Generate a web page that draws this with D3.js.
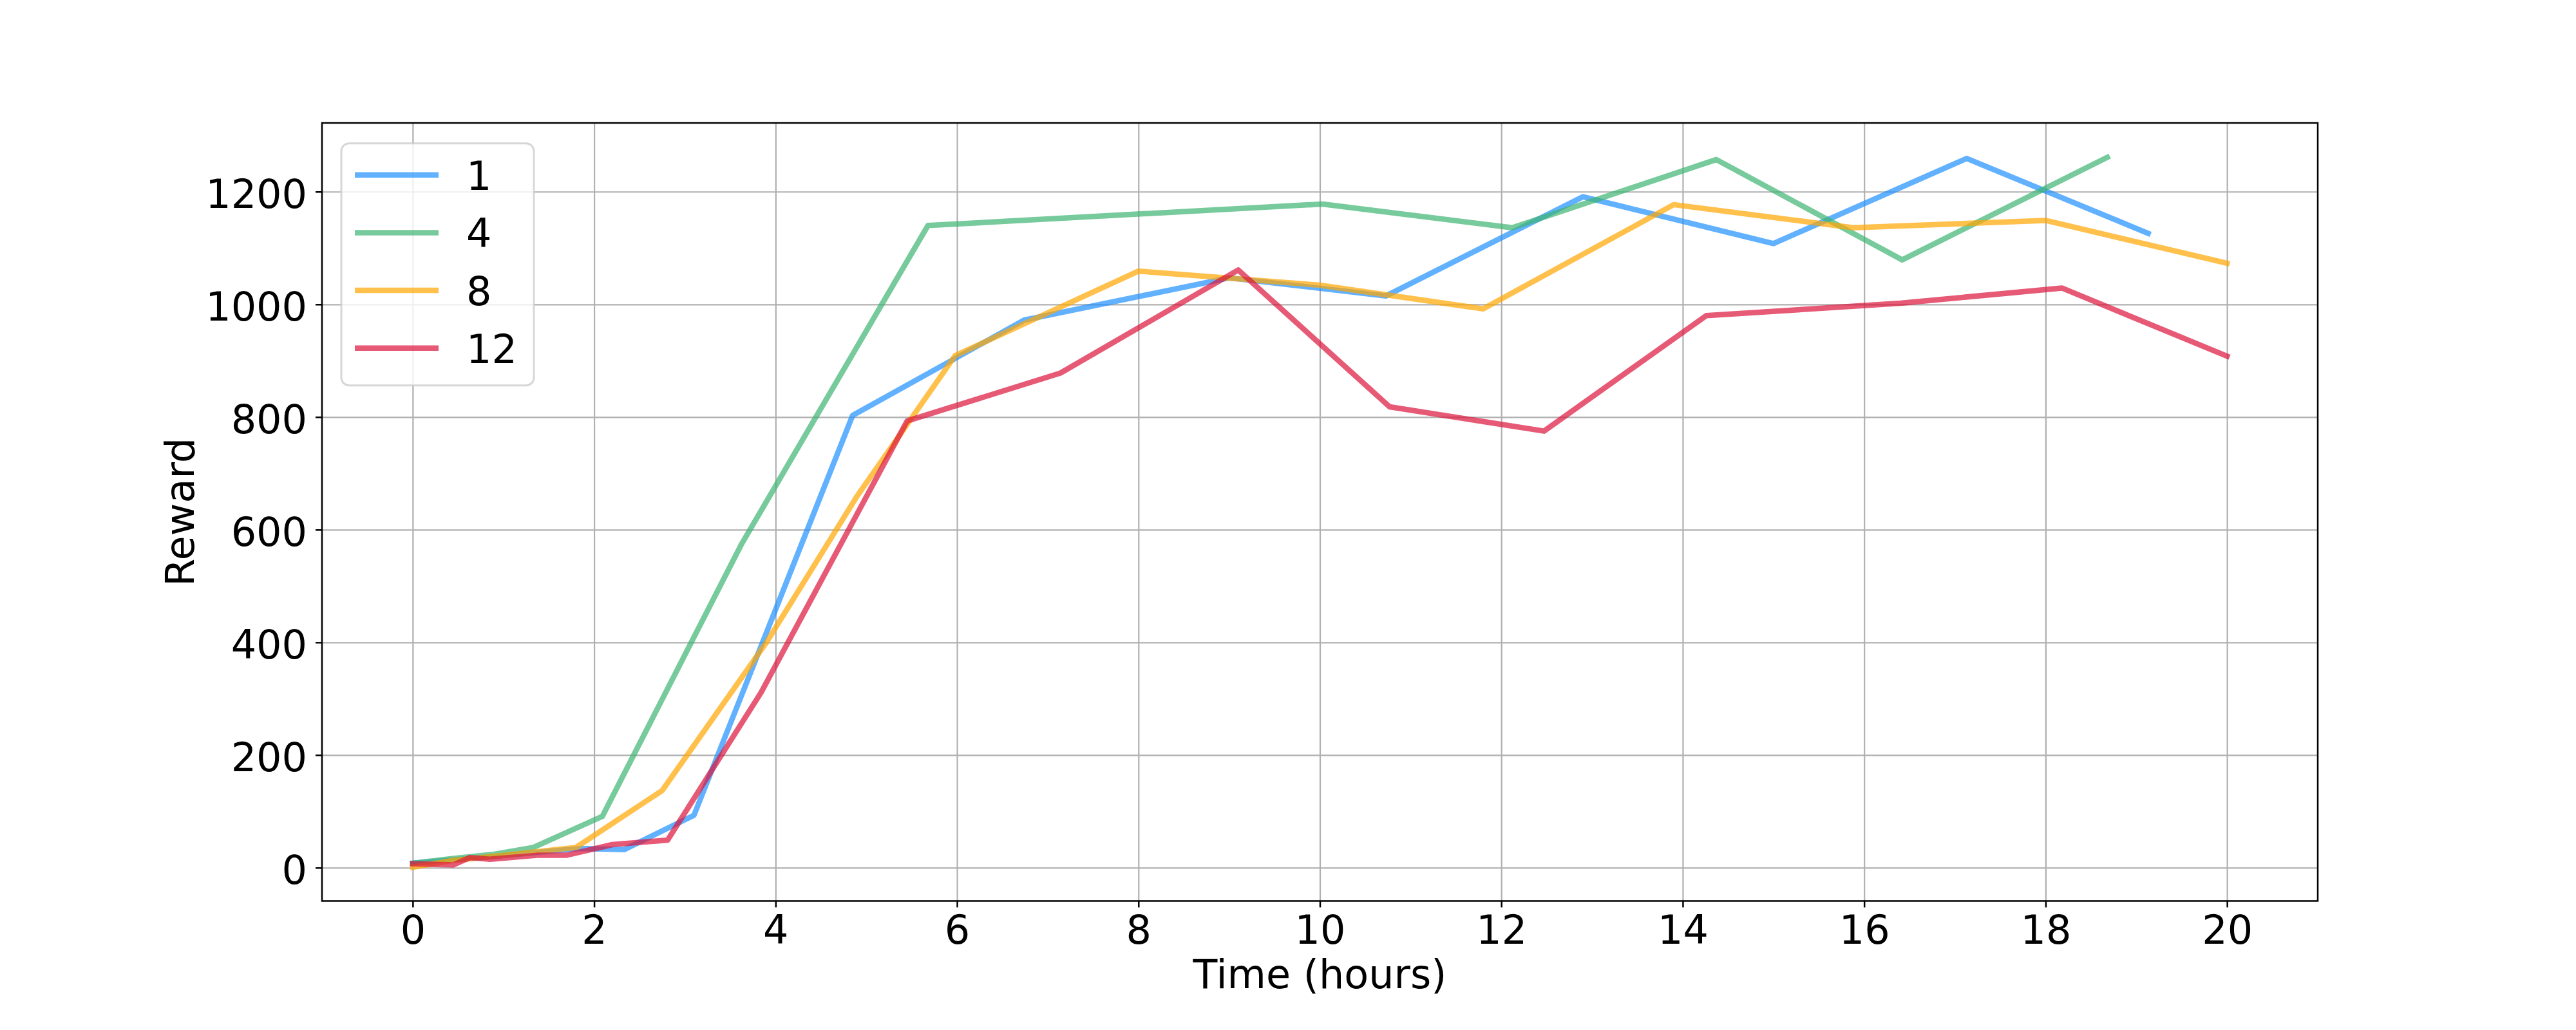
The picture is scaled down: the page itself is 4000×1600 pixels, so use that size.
<!DOCTYPE html>
<html>
<head>
<meta charset="utf-8">
<script src="https://cdn.jsdelivr.net/npm/d3@7"></script>
<style>
  body { margin: 0; background: #fff; }
  svg { display: block; }
  text { font-family: "DejaVu Sans", sans-serif; }
</style>
</head>
<body>
<svg id="chart"></svg>
<script>
// legend labels / series names
var seriesNames = ["1", "4", "8", "12"];
var seriesColors = ["dodgerblue", "mediumseagreen", "orange", "crimson"];

// time (hours) and reward per run
var time1   = [0, 0.45, 0.9, 1.35, 1.84, 2.33, 3.1, 4.85, 6.74, 9.0, 10.73, 12.9, 15.0, 17.13, 19.13];
var reward1 = [8, 14, 20, 27, 34, 32, 93, 803, 972, 1047, 1015, 1191, 1108, 1259, 1126];

var time4   = [0, 0.42, 0.9, 1.33, 2.09, 3.62, 5.68, 10.03, 12.12, 14.37, 16.42, 18.68];
var reward4 = [8, 16, 24, 36, 91, 573, 1140, 1178, 1136, 1257, 1079, 1261];

var time8   = [0, 0.45, 1.0, 1.8, 2.75, 3.9, 4.9, 5.98, 8.0, 10.0, 11.8, 13.9, 15.88, 18.0, 20.0];
var reward8 = [1, 13, 22, 36, 137, 400, 660, 909, 1059, 1034, 992, 1177, 1136, 1149, 1073];

var time12   = [0, 0.45, 0.63, 0.85, 1.37, 1.69, 2.2, 2.81, 3.84, 5.45, 7.14, 9.1, 10.77, 12.47, 14.26, 16.4, 18.18, 20.0];
var reward12 = [7, 5, 18, 15, 22, 22, 41, 49, 311, 793, 878, 1061, 818, 775, 980, 1002, 1029, 908];

var xTicks = [0, 2, 4, 6, 8, 10, 12, 14, 16, 18, 20];
var yTicks = [0, 200, 400, 600, 800, 1000, 1200];

var w = 4000;
var h = 1600;
var margin = {left: 500, right: 401, top: 191, bottom: 200.5};
var fontSize = 62;
var lineW = 8.5;

var series = [
  {name: seriesNames[0], color: seriesColors[0], t: time1, r: reward1},
  {name: seriesNames[1], color: seriesColors[1], t: time4, r: reward4},
  {name: seriesNames[2], color: seriesColors[2], t: time8, r: reward8},
  {name: seriesNames[3], color: seriesColors[3], t: time12, r: reward12}
];

var svg = d3.select("#chart")
  .attr("width", w)
  .attr("height", h);

var x = d3.scaleLinear()
  .domain([-1, 21])
  .range([margin.left, w - margin.right]);

var y = d3.scaleLinear()
  .domain([-59, 1322])
  .range([h - margin.bottom, margin.top]);

var plotW = w - margin.left - margin.right;
var plotH = h - margin.top - margin.bottom;

svg.append("defs").append("clipPath")
  .attr("id", "clip")
  .append("rect")
  .attr("x", margin.left)
  .attr("y", margin.top)
  .attr("width", plotW)
  .attr("height", plotH);

// grid
var xGrid = svg.append("g")
  .attr("transform", "translate(0," + (h - margin.bottom) + ")")
  .call(d3.axisBottom(x).tickValues(xTicks).tickSize(-plotH).tickFormat(""));
var yGrid = svg.append("g")
  .attr("transform", "translate(" + margin.left + ",0)")
  .call(d3.axisLeft(y).tickValues(yTicks).tickSize(-plotW).tickFormat(""));
[xGrid, yGrid].forEach(function(g) {
  g.select(".domain").remove();
  g.selectAll("line").attr("stroke", "#b0b0b0").attr("stroke-width", 2.2);
});

// lines
var line = d3.line()
  .x(function(d) { return x(d[0]); })
  .y(function(d) { return y(d[1]); });

svg.append("g")
  .attr("clip-path", "url(#clip)")
  .selectAll("path")
  .data(series)
  .enter()
  .append("path")
  .attr("d", function(s) { return line(d3.zip(s.t, s.r)); })
  .attr("fill", "none")
  .attr("stroke", function(s) { return s.color; })
  .attr("stroke-opacity", 0.7)
  .attr("stroke-width", lineW)
  .attr("stroke-linejoin", "round")
  .attr("stroke-linecap", "square");

// axes
var xAxis = svg.append("g")
  .attr("transform", "translate(0," + (h - margin.bottom) + ")")
  .call(d3.axisBottom(x).tickValues(xTicks).tickFormat(d3.format("d")).tickSize(10).tickPadding(12));
var yAxis = svg.append("g")
  .attr("transform", "translate(" + margin.left + ",0)")
  .call(d3.axisLeft(y).tickValues(yTicks).tickFormat(d3.format("d")).tickSize(10).tickPadding(13));
[xAxis, yAxis].forEach(function(g) {
  g.select(".domain").remove();
  g.selectAll("line").attr("stroke", "#000").attr("stroke-width", 2.5);
  g.selectAll("text")
    .attr("font-family", "DejaVu Sans")
    .attr("font-size", fontSize)
    .attr("fill", "#000");
});
yAxis.selectAll("text").attr("dy", "0.4em");

// frame
svg.append("rect")
  .attr("x", margin.left)
  .attr("y", margin.top)
  .attr("width", plotW)
  .attr("height", plotH)
  .attr("fill", "none")
  .attr("stroke", "#000")
  .attr("stroke-width", 2.5);

// axis labels
svg.append("text")
  .attr("x", margin.left + plotW / 2)
  .attr("y", 1535)
  .attr("text-anchor", "middle")
  .attr("font-size", fontSize)
  .text("Time (hours)");

svg.append("text")
  .attr("transform", "translate(301," + (margin.top + plotH / 2) + ") rotate(-90)")
  .attr("text-anchor", "middle")
  .attr("font-size", fontSize)
  .text("Reward");

// legend
var legend = svg.append("g");
legend.append("rect")
  .attr("x", 530)
  .attr("y", 222.7)
  .attr("width", 299)
  .attr("height", 376)
  .attr("rx", 12)
  .attr("fill", "#fff")
  .attr("fill-opacity", 0.8)
  .attr("stroke", "#ccc")
  .attr("stroke-opacity", 0.8)
  .attr("stroke-width", 3);

var item = legend.selectAll(".item")
  .data(series)
  .enter()
  .append("g")
  .attr("class", "item")
  .attr("transform", function(d, i) { return "translate(0," + (271.7 + i * 89.7) + ")"; });
item.append("line")
  .attr("x1", 551)
  .attr("x2", 681)
  .attr("stroke", function(d) { return d.color; })
  .attr("stroke-opacity", 0.7)
  .attr("stroke-width", lineW);
item.append("text")
  .attr("x", 724)
  .attr("y", 23)
  .attr("font-size", fontSize)
  .text(function(d) { return d.name; });
</script>
</body>
</html>
